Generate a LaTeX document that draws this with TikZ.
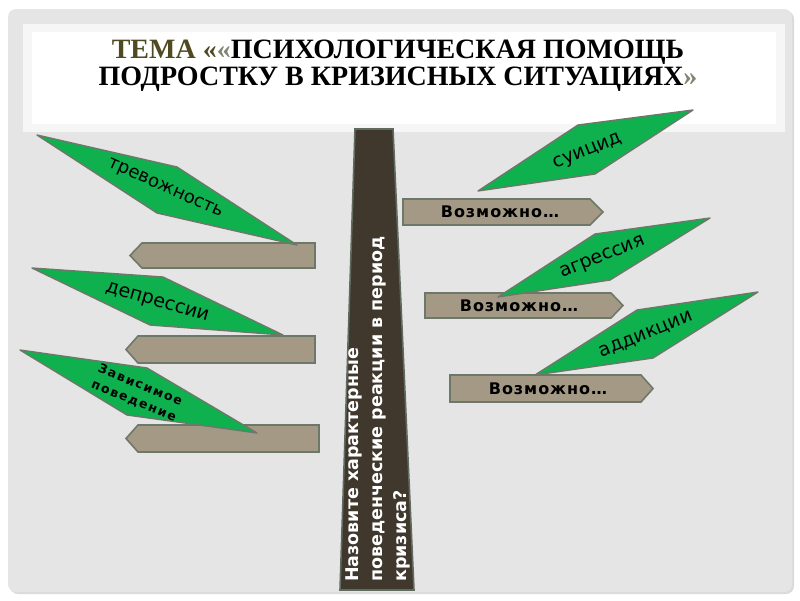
\documentclass[tikz,border=0pt]{standalone}
\usepackage{fontspec}
\setmainfont{Liberation Serif}
\newfontfamily\dv{DejaVu Sans}
\newfontfamily\dvls{DejaVu Sans}[LetterSpace=12]
\newfontfamily\dvar{DejaVu Sans}[LetterSpace=6]
\definecolor{bggray}{HTML}{E5E5E5}
\definecolor{panelA}{HTML}{F6F6F6}
\definecolor{olivet}{HTML}{4F4A22}
\definecolor{olivegray}{HTML}{7E8570}
\definecolor{colfill}{HTML}{40372D}
\definecolor{colborder}{HTML}{5F6B5E}
\definecolor{arrfill}{HTML}{A39985}
\definecolor{edgegray}{HTML}{6E786A}
\definecolor{leafgreen}{HTML}{0FB04E}
\tikzset{
  arrowbox/.style={draw=edgegray, fill=arrfill, line width=1.6pt, line join=miter},
  leaf/.style={draw=edgegray, fill=leafgreen, line width=1.4pt, line join=round},
  leaftext/.style={inner sep=0pt, font=\dv\fontsize{19}{22}\selectfont, text=black},
  maybetext/.style={inner sep=0pt, font=\dvar\bfseries\fontsize{16}{18}\selectfont, text=black},
  coltext/.style={inner sep=0pt, anchor=base west, rotate=90, text=white, font=\dv\bfseries\fontsize{17.5}{19}\selectfont},
  titletext/.style={inner sep=0pt, anchor=base, font=\bfseries\fontsize{28}{30}\selectfont}
}
\begin{document}
\begin{tikzpicture}[x=1pt,y=-1pt]
\useasboundingbox (0,0) rectangle (800,600);
\fill[white] (0,0) rectangle (800,600);
% slide background
\fill[black!14, rounded corners=8pt] (10,11) rectangle (794,594);
\fill[bggray, rounded corners=8pt] (8,9) rectangle (792,592);
% title panel
\fill[panelA] (23,24) rectangle (785,132);
\fill[white] (32,32) rectangle (776,124);
\node[titletext] (t1) at (398,58) {\textcolor{olivet}{ТЕМА «}\textcolor{olivegray}{«}ПСИХОЛОГИЧЕСКАЯ ПОМОЩЬ};
\node[titletext] (t2) at (398,85) {ПОДРОСТКУ В КРИЗИСНЫХ СИТУАЦИЯХ\textcolor{olivegray}{»}};
% central column
\draw[draw=colborder, fill=colfill, line width=1.6pt] (355,129) -- (393,129) -- (414,590) -- (340,590) -- cycle;
\node[coltext] (c1) at (358,582) {Назовите характерные};
\node[coltext] (c2) at (382,582) {поведенческие реакции в период};
\node[coltext] (c3) at (406,582) {кризиса?};
% left arrows
\draw[arrowbox] (130,255.5) -- (142,243) -- (315,243) -- (315,268) -- (142,268) -- cycle;
\draw[arrowbox] (126,349.5) -- (138,336) -- (315,336) -- (315,363) -- (138,363) -- cycle;
\draw[arrowbox] (126,438.5) -- (138,425) -- (319,425) -- (319,452) -- (138,452) -- cycle;
% right arrows
\draw[arrowbox] (403,199) -- (590,199) -- (603,212) -- (590,225) -- (403,225) -- cycle;
\draw[arrowbox] (425,293) -- (611,293) -- (623,305.5) -- (611,318) -- (425,318) -- cycle;
\draw[arrowbox] (450,375) -- (641,375) -- (653,388.5) -- (641,402) -- (450,402) -- cycle;
\node[maybetext] (m1) at (500,212) {Возможно…};
\node[maybetext] (m2) at (519,305.5) {Возможно…};
\node[maybetext] (m3) at (548,388.5) {Возможно…};
% left leaves
\draw[leaf] (37,135) -- (177,167) -- (297,245) -- (157,213) -- cycle;
\node[leaftext, rotate=-24, font=\dv\fontsize{18}{20}\selectfont] (l1) at (165,189) {тревожность};
\draw[leaf] (32,268) -- (163,277) -- (283,335) -- (150,325) -- cycle;
\node[leaftext, rotate=-16] (l2) at (157,303) {депрессии};
\draw[leaf] (20,350) -- (147,368) -- (257,433) -- (127,415) -- cycle;
\node[leaftext, rotate=-22, align=center, font=\dvls\bfseries\fontsize{12.5}{17}\selectfont] (l3) at (137,393) {Зависимое\\поведение};
% right leaves
\draw[leaf] (478,191) -- (578,125) -- (693,110) -- (595,174) -- cycle;
\node[leaftext, rotate=22] (r1) at (588,152) {суицид};
\draw[leaf] (498,297) -- (595,234) -- (710,218) -- (610,280) -- cycle;
\node[leaftext, rotate=22] (r2) at (603,258) {агрессия};
\draw[leaf] (535,375) -- (637,310) -- (758,292) -- (653,358) -- cycle;
\node[leaftext, rotate=22] (r3) at (646,335) {аддикции};
\end{tikzpicture}
\end{document}
